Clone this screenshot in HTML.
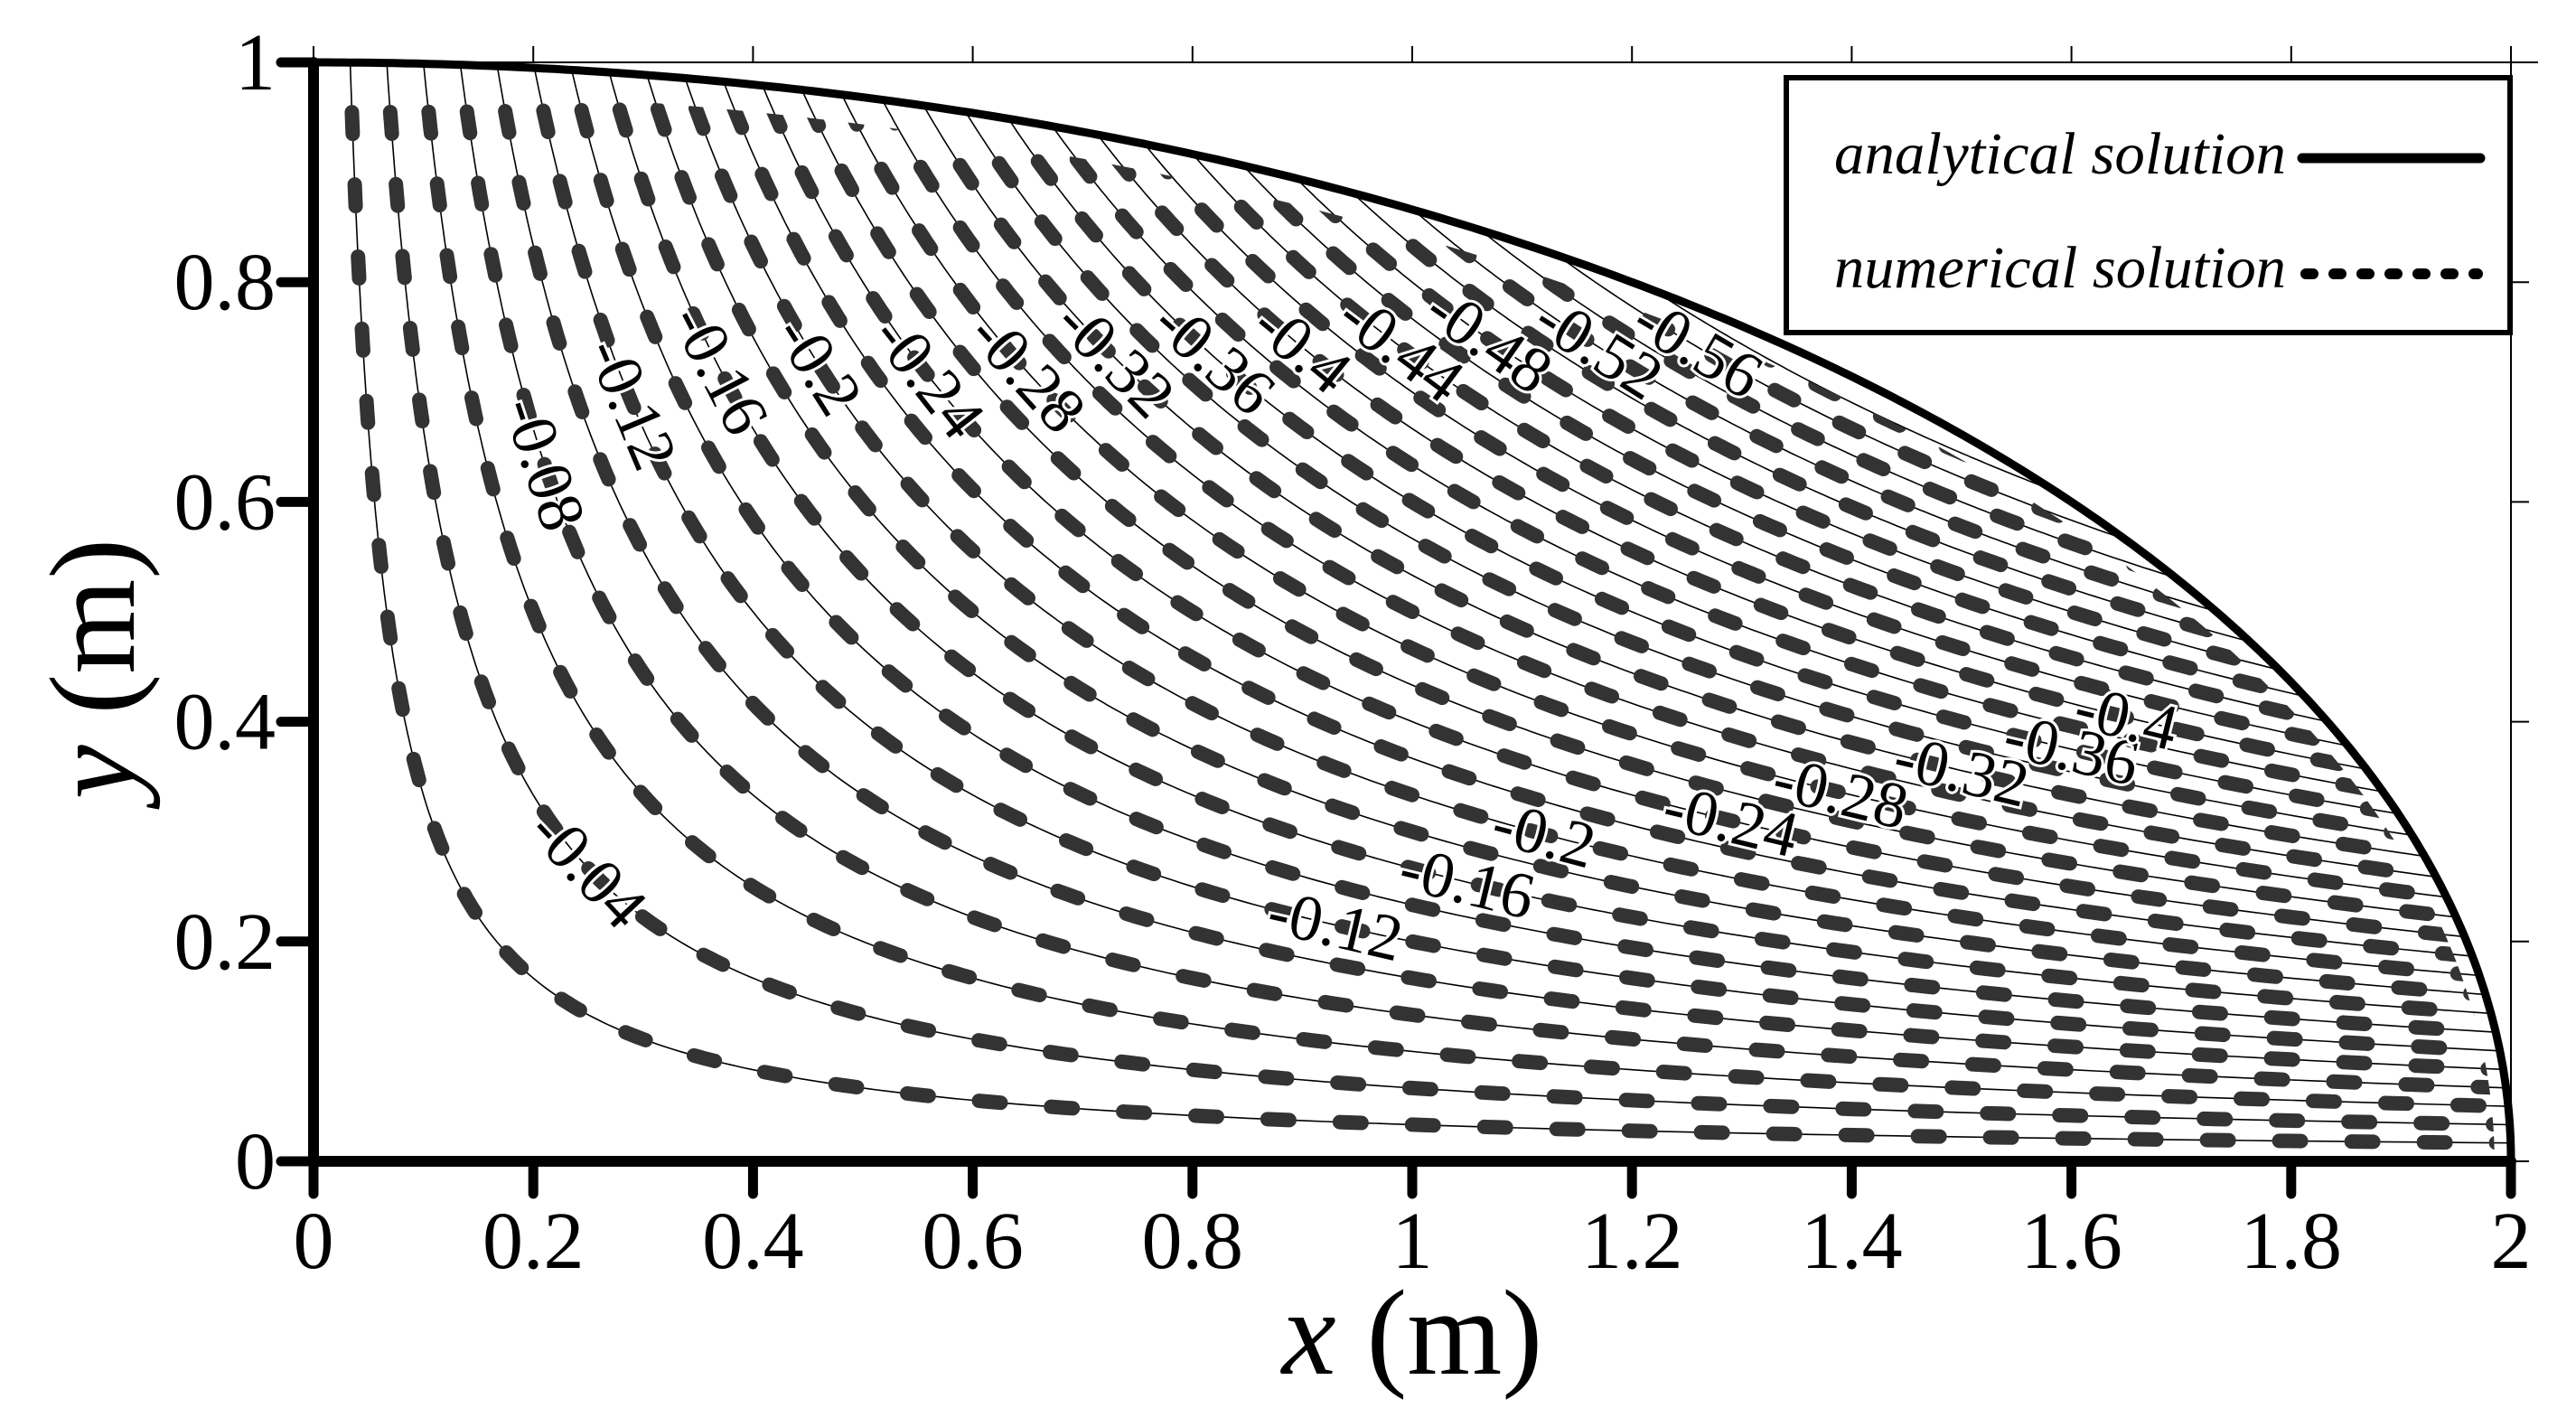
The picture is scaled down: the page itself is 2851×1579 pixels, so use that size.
<!DOCTYPE html>
<html><head><meta charset="utf-8"><style>
html,body{margin:0;padding:0;background:#fff;}
svg{display:block;font-family:"Liberation Serif",serif;}
</style></head><body>
<svg id="chart" width="2851" height="1579" viewBox="0 0 2851 1579" xmlns="http://www.w3.org/2000/svg">
<defs>
<clipPath id="clipA"><path id="clipAPath"/></clipPath>
<clipPath id="clipN"><path id="clipNPath"/></clipPath>
</defs>
<g id="frame"></g>
<g id="contours"></g>
<g id="labels"></g>
<g id="axes"></g>
<text x="1563" y="1520" font-size="135" text-anchor="middle"><tspan font-style="italic">x</tspan> (m)</text>
<text transform="translate(148,740) rotate(-90)" font-size="135" text-anchor="middle"><tspan font-style="italic">y</tspan> (m)</text>
<g>
<rect x="1977" y="86" width="801" height="282" fill="#fff" stroke="#000" stroke-width="6"/>
<text x="2030" y="192" font-size="66" font-style="italic" textLength="500" lengthAdjust="spacingAndGlyphs">analytical solution</text>
<line x1="2548" y1="175" x2="2745" y2="175" stroke="#000" stroke-width="11" stroke-linecap="round"/>
<text x="2030" y="318" font-size="66" font-style="italic" textLength="500" lengthAdjust="spacingAndGlyphs">numerical solution</text>
<line x1="2552" y1="303" x2="2742" y2="303" stroke="#000" stroke-width="12" stroke-linecap="round" stroke-dasharray="8 23"/>
</g>
</svg>
<script>
// ---- data ----
const xTicks = [0,0.2,0.4,0.6,0.8,1,1.2,1.4,1.6,1.8,2];
const xTickLabels = ["0","0.2","0.4","0.6","0.8","1","1.2","1.4","1.6","1.8","2"];
const yTicks = [0,0.2,0.4,0.6,0.8,1];
const yTickLabels = ["0","0.2","0.4","0.6","0.8","1"];
const levels = [-0.02,-0.04,-0.06,-0.08,-0.10,-0.12,-0.14,-0.16,-0.18,-0.20,-0.22,-0.24,-0.26,-0.28,-0.30,-0.32,-0.34,-0.36,-0.38,-0.40,-0.42,-0.44,-0.46,-0.48,-0.50,-0.52,-0.54,-0.56,-0.58];
const fieldCoef = 0.6; // phi = -fieldCoef * x * y
const labelLevels = [-0.08,-0.12,-0.16,-0.2,-0.24,-0.28,-0.32,-0.36,-0.4,-0.44,-0.48,-0.52,-0.56,-0.04,-0.12,-0.16,-0.2,-0.24,-0.28,-0.32,-0.36,-0.4];
const labelTexts = ["-0.08","-0.12","-0.16","-0.2","-0.24","-0.28","-0.32","-0.36","-0.4","-0.44","-0.48","-0.52","-0.56","-0.04","-0.12","-0.16","-0.2","-0.24","-0.28","-0.32","-0.36","-0.4"];
const labelX = [0.21,0.29,0.37,0.46,0.56,0.65,0.73,0.82,0.90,0.99,1.07,1.17,1.26,0.25,0.93,1.05,1.12,1.29,1.39,1.50,1.60,1.65];

// ---- axes ----
const PX0=347, PX1=2779, PY0=1285, PY1=69;
const sx = v => PX0 + (PX1-PX0)*v/2;
const sy = v => PY0 - (PY0-PY1)*v;
const NS="http://www.w3.org/2000/svg";
function mk(tag, attrs, parent){const e=document.createElementNS(NS,tag);for(const k in attrs)e.setAttribute(k,attrs[k]);parent.appendChild(e);return e;}

function ellipsePath(rx, ry){
  let d="M"+sx(0)+","+sy(0)+" L"+sx(0)+","+sy(ry);
  for(let i=0;i<=200;i++){const t=i/200*Math.PI/2;d+=" L"+sx(rx*Math.sin(t)).toFixed(1)+","+sy(ry*Math.cos(t)).toFixed(1);}
  return d+" Z";
}
document.getElementById('clipAPath').setAttribute('d', ellipsePath(2,1));
document.getElementById('clipNPath').setAttribute('d', ellipsePath(1.985,0.975));

const frameG=document.getElementById('frame');
const topLine=mk('line',{x1:sx(0),y1:sy(1),x2:sx(2)+30,y2:sy(1),stroke:"#000","stroke-width":2},frameG);


const rightLine=mk('line',{x1:sx(2),y1:sy(1)-18,x2:sx(2),y2:sy(0),stroke:"#000","stroke-width":2},frameG);


xTicks.forEach(v=>{const t=mk('line',{x1:sx(v),y1:sy(1),x2:sx(v),y2:sy(1)-18,stroke:"#000","stroke-width":2},frameG);

});
yTicks.forEach(v=>{const t=mk('line',{x1:sx(2),y1:sy(v),x2:sx(2)+20,y2:sy(v),stroke:"#000","stroke-width":2},frameG);

});

// ---- contours ----
const cg=document.getElementById('contours');
const thinG=mk('g',{"clip-path":"url(#clipA)"},cg);
const dashG=mk('g',{"clip-path":"url(#clipN)"},cg);
function curvePath(L){
  const c=-L/fieldCoef; let d="";
  const xs=c*0.98, xe=2.0, n=260;
  for(let i=0;i<=n;i++){const x=xs*Math.pow(xe/xs,i/n);const y=c/x;d+=(i?" L":"M")+sx(x).toFixed(1)+","+sy(y).toFixed(1);}
  return d;
}
levels.forEach(L=>{
  const d=curvePath(L);
  const a=mk('path',{d:d,fill:"none",stroke:"#000","stroke-width":1.6},thinG);
  
  
  const b=mk('path',{d:d,fill:"none",stroke:"#333","stroke-width":16,"stroke-linecap":"round","stroke-dasharray":"24 56"},dashG);
  
  
});

// ---- labels ----
const lg=document.getElementById('labels');
labelLevels.forEach((L,i)=>{
  const x=labelX[i], y=-L/fieldCoef/x;
  const px=sx(x), py=sy(y);
  const ang=Math.atan2((PY0-PY1)*y/x,(PX1-PX0)/2)*180/Math.PI;
  const t=mk('text',{x:0,y:0,transform:"translate("+px.toFixed(1)+","+py.toFixed(1)+") rotate("+ang.toFixed(1)+")","font-family":"Liberation Serif, serif","font-size":72,"text-anchor":"middle","dominant-baseline":"central",fill:"#000",stroke:"#fff","stroke-width":6,"paint-order":"stroke"},lg);
  t.textContent=labelTexts[i];
  
  
});

// ---- main axes ----
const axG=document.getElementById('axes');
let bd="";
for(let i=0;i<=300;i++){const t=i/300*Math.PI/2;bd+=(i?" L":"M")+sx(2*Math.sin(t)).toFixed(1)+","+sy(Math.cos(t)).toFixed(1);}
const bnd=mk('path',{d:bd,fill:"none",stroke:"#000","stroke-width":9},axG);


const xAxisLine=mk('line',{x1:sx(0),y1:sy(0),x2:sx(2),y2:sy(0),stroke:"#000","stroke-width":12,"stroke-linecap":"round"},axG);


const yAxisLine=mk('line',{x1:sx(0),y1:sy(0),x2:sx(0),y2:sy(1),stroke:"#000","stroke-width":12,"stroke-linecap":"round"},axG);


xTicks.forEach((v,i)=>{
  const t=mk('line',{x1:sx(v),y1:sy(0),x2:sx(v),y2:sy(0)+36,stroke:"#000","stroke-width":11,"stroke-linecap":"round"},axG);
  
  
  const l=mk('text',{x:sx(v),y:1403,"font-size":90,"text-anchor":"middle"},axG);
  l.textContent=xTickLabels[i];
  
  
});
yTicks.forEach((v,i)=>{
  const t=mk('line',{x1:sx(0),y1:sy(v),x2:sx(0)-36,y2:sy(v),stroke:"#000","stroke-width":11,"stroke-linecap":"round"},axG);
  
  
  const l=mk('text',{x:305,y:sy(v)+30,"font-size":90,"text-anchor":"end"},axG);
  l.textContent=yTickLabels[i];
  
  
});
</script>
</body></html>
